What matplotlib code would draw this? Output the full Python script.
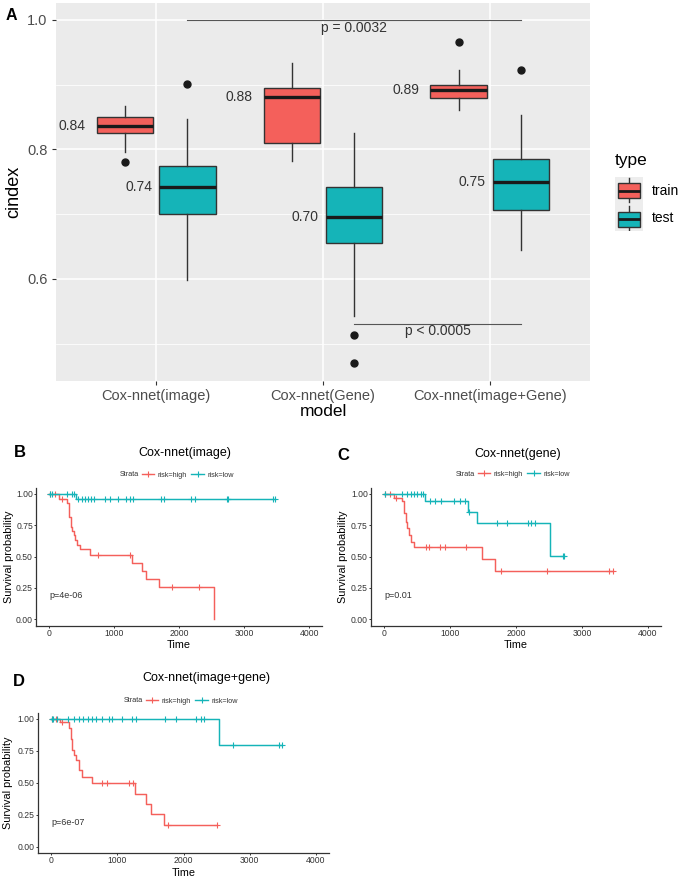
"""Cox-nnet c-index boxplots (A) and Kaplan-Meier curves (B-D)."""

import numpy as np
import matplotlib

matplotlib.use("Agg")
import matplotlib.pyplot as plt
from matplotlib.lines import Line2D
from matplotlib.patches import Rectangle
from matplotlib.ticker import FixedLocator

plt.rcParams["font.family"] = ["Liberation Sans", "DejaVu Sans"]

FIG_W, FIG_H, DPI = 685, 883, 100

TRAIN_COLOR = "#F4605B"
TEST_COLOR = "#15B4B8"
EDGE = "#333333"
DODGE = 0.186
BOX_W = 0.34

# Panel A: c-index summaries
MODELS = ["Cox-nnet(image)", "Cox-nnet(Gene)", "Cox-nnet(image+Gene)"]
TRAIN_MED = [0.836, 0.881, 0.891]
TRAIN_Q1 = [0.825, 0.810, 0.880]
TRAIN_Q3 = [0.850, 0.895, 0.899]
TRAIN_LO = [0.796, 0.782, 0.861]
TRAIN_HI = [0.867, 0.933, 0.923]
TRAIN_OUT = [[0.780], [], [0.965]]
TRAIN_LABELS = ["0.84", "0.88", "0.89"]

TEST_MED = [0.742, 0.695, 0.750]
TEST_Q1 = [0.700, 0.655, 0.707]
TEST_Q3 = [0.775, 0.742, 0.785]
TEST_LO = [0.598, 0.543, 0.644]
TEST_HI = [0.847, 0.825, 0.853]
TEST_OUT = [[0.901], [0.513, 0.470], [0.922]]
TEST_LABELS = ["0.74", "0.70", "0.75"]

BRACKET_PAIRS = [(0, 2), (1, 2)]
BRACKET_Y = [1.0, 0.531]
BRACKET_LABELS = ["p = 0.0032", "p < 0.0005"]

# Panels B-D: Kaplan-Meier step curves (time, survival) and censor times
B_HIGH_TIME = [0, 149, 270, 300, 330, 350, 375, 400, 430, 470, 630, 1267, 1420, 1487, 1692, 2538]
B_HIGH_SURV = [1.0, 0.963, 0.926, 0.815, 0.74, 0.705, 0.67, 0.63, 0.593, 0.56, 0.515,
               0.45, 0.385, 0.32, 0.257, 0.0]
B_HIGH_CENS = [10, 87, 190, 754, 1241, 1882, 2302]
B_LOW_TIME = [0, 410]
B_LOW_SURV = [1.0, 0.96]
B_LOW_CENS = [10, 40, 267, 350, 375, 446, 497, 549, 600, 641, 692, 856, 933, 1061, 1174,
              1241, 1292, 1718, 1769, 2179, 2241, 2728, 2744, 3436, 3472]

C_HIGH_TIME = [0, 147, 273, 300, 330, 350, 380, 410, 456, 1489, 1681]
C_HIGH_SURV = [1.0, 0.97, 0.94, 0.85, 0.78, 0.73, 0.67, 0.62, 0.574, 0.479, 0.386]
C_HIGH_CENS = [10, 85, 185, 632, 683, 845, 922, 1235, 1772, 2466, 3418, 3470]
C_LOW_TIME = [0, 618, 1266, 1413, 2516]
C_LOW_SURV = [1.0, 0.947, 0.859, 0.766, 0.505]
C_LOW_CENS = [10, 263, 349, 400, 451, 501, 552, 592, 694, 770, 861, 1058, 1149, 1225,
              1281, 1706, 1858, 2177, 2228, 2288, 2709, 2735]

D_HIGH_TIME = [0, 136, 272, 300, 320, 350, 380, 420, 470, 621, 1275, 1440, 1505, 1700]
D_HIGH_SURV = [1.0, 0.974, 0.93, 0.84, 0.76, 0.72, 0.68, 0.60, 0.549, 0.497, 0.415,
               0.334, 0.254, 0.171]
D_HIGH_CENS = [10, 70, 160, 765, 840, 1182, 1243, 1771, 2500]
D_LOW_TIME = [0, 2536]
D_LOW_SURV = [1.0, 0.80]
D_LOW_CENS = [10, 35, 85, 262, 352, 428, 488, 553, 613, 679, 765, 875, 926, 1077, 1227,
              1283, 1721, 1882, 2188, 2259, 2309, 2742, 3446, 3481]

STRATA = ["risk=high", "risk=low"]
TIME_TICKS = [0, 1000, 2000, 3000, 4000]
SURV_TICKS = [0.0, 0.25, 0.5, 0.75, 1.0]


def px_axes(fig, left, top, right, bottom):
    """Add axes from pixel edges measured from the top-left corner."""
    return fig.add_axes([left / FIG_W, 1 - bottom / FIG_H,
                         (right - left) / FIG_W, (bottom - top) / FIG_H])


def fig_text(fig, x, y, s, **kw):
    """Place text at pixel coordinates with a top-left origin."""
    return fig.text(x / FIG_W, 1 - y / FIG_H, s, **kw)


def box_stats(med, q1, q3, lo, hi, out):
    """Build the stats dicts that Axes.bxp expects."""
    return [dict(med=m, q1=a, q3=b, whislo=l, whishi=h, fliers=np.array(f))
            for m, a, b, l, h, f in zip(med, q1, q3, lo, hi, out)]


def draw_cindex(fig):
    """Panel A: dodged train/test boxplots with median labels and p-value brackets."""
    ax = px_axes(fig, 56, 3, 590, 380.5)
    ax.set_facecolor("#EBEBEB")
    for spine in ax.spines.values():
        spine.set_visible(False)
    x = np.arange(len(MODELS))

    groups = [
        (-DODGE, TRAIN_COLOR, box_stats(TRAIN_MED, TRAIN_Q1, TRAIN_Q3, TRAIN_LO, TRAIN_HI, TRAIN_OUT),
         TRAIN_LABELS, 0.236),
        (DODGE, TEST_COLOR, box_stats(TEST_MED, TEST_Q1, TEST_Q3, TEST_LO, TEST_HI, TEST_OUT),
         TEST_LABELS, 0.21),
    ]
    for offset, color, stats, labels, gap in groups:
        ax.bxp(stats, positions=x + offset, widths=BOX_W, patch_artist=True, showcaps=False,
               boxprops=dict(facecolor=color, edgecolor=EDGE, linewidth=1.0),
               medianprops=dict(color="#1A1A1A", linewidth=2.4, solid_capstyle="butt"),
               whiskerprops=dict(color=EDGE, linewidth=1.0),
               flierprops=dict(marker="o", markerfacecolor="#1A1A1A",
                               markeredgecolor="#1A1A1A", markersize=5))
        for xi, st, lab in zip(x + offset, stats, labels):
            ax.text(xi - gap, st["med"], lab, ha="right", va="center",
                    fontsize=10, color="#333333")

    for (i, j), y, lab in zip(BRACKET_PAIRS, BRACKET_Y, BRACKET_LABELS):
        x0, x1 = i + DODGE, j + DODGE
        ax.plot([x0, x1], [y, y], color="#555555", lw=0.8)
        ax.text((x0 + x1) / 2, y - 0.012, lab, ha="center", va="center",
                fontsize=10, color="#333333")

    ax.set_xlim(-0.6, 2.6)
    ax.set_ylim(0.443, 1.026)
    ax.set_xticks(x)
    ax.set_xticklabels(MODELS)
    ax.set_yticks([0.6, 0.8, 1.0])
    ax.set_yticklabels(["0.6", "0.8", "1.0"])
    ax.yaxis.set_minor_locator(FixedLocator([0.5, 0.7, 0.9]))
    ax.set_axisbelow(True)
    ax.grid(True, which="major", color="white", linewidth=1.1)
    ax.grid(True, which="minor", axis="y", color="white", linewidth=0.55)
    ax.tick_params(which="minor", length=0)
    ax.tick_params(which="major", length=3, width=0.8, color=EDGE,
                   labelcolor="#4D4D4D", labelsize=10.5, pad=3)

    fig_text(fig, 14, 192, "cindex", rotation=90, ha="center", va="center", fontsize=13)
    fig_text(fig, 323, 411.5, "model", ha="center", va="center", fontsize=12.5)
    fig_text(fig, 11, 16, "A", ha="center", va="center", fontsize=11.5, fontweight="bold")

    # legend: title, key glyphs and labels
    fig_text(fig, 615, 161, "type", ha="left", va="center", fontsize=12.5)
    key = px_axes(fig, 615, 177, 643, 231)
    key.set_facecolor("#EDEDED")
    key.set_xlim(0, 1)
    key.set_ylim(0, 1)
    key.set_xticks([])
    key.set_yticks([])
    for spine in key.spines.values():
        spine.set_visible(False)
    for color, wlo, whi, blo, bhi, med in [(TRAIN_COLOR, 0.54, 0.98, 0.606, 0.894, 0.75),
                                            (TEST_COLOR, 0.02, 0.46, 0.08, 0.36, 0.22)]:
        key.plot([0.49, 0.49], [wlo, whi], color=EDGE, lw=1.0)
        key.add_patch(Rectangle((0.1, blo), 0.78, bhi - blo, facecolor=color,
                                edgecolor=EDGE, lw=1.0, zorder=3))
        key.plot([0.1, 0.88], [med, med], color="#1A1A1A", lw=2.0, zorder=4,
                 solid_capstyle="butt")
    fig_text(fig, 652, 191, "train", ha="left", va="center", fontsize=10)
    fig_text(fig, 652, 218, "test", ha="left", va="center", fontsize=10)


def step_curve(times, surv, cens):
    """Extend a KM step curve to its last censor time and locate the censor marks."""
    end = max(max(cens), times[-1])
    t = list(times)
    s = list(surv)
    if end > times[-1]:
        t.append(end)
        s.append(surv[-1])
    idx = np.searchsorted(times, cens, side="right") - 1
    return t, s, np.asarray(surv)[idx]


def draw_km(fig, panel):
    """One Kaplan-Meier panel in the survminer style."""
    ax = px_axes(fig, *panel["box"])
    for (times, surv, cens), color in zip(panel["curves"], [TRAIN_COLOR, TEST_COLOR]):
        t, s, cs = step_curve(times, surv, cens)
        ax.step(t, s, where="post", color=color, lw=1.05)
        ax.plot(cens, cs, ls="none", marker="+", ms=4.5, mew=0.8, color=color)

    ax.set_xlim(-200, 4200)
    ax.set_ylim(-0.05, 1.05)
    ax.set_xticks(TIME_TICKS)
    ax.set_yticks(SURV_TICKS)
    ax.set_yticklabels([f"{v:.2f}" for v in SURV_TICKS])
    for side in ["top", "right"]:
        ax.spines[side].set_visible(False)
    for side in ["left", "bottom"]:
        ax.spines[side].set_color(EDGE)
        ax.spines[side].set_linewidth(0.9)
    ax.tick_params(length=1.6, width=0.7, color=EDGE, labelcolor="#333333",
                   labelsize=6.2, pad=0.8)
    ax.text(0, 0.19, panel["pval"], ha="left", va="center", fontsize=6.5, color="#333333")

    tx, ty = panel["title_xy"]
    fig_text(fig, tx, ty, panel["title"], ha="center", va="center", fontsize=9)
    lx, ly = panel["letter_xy"]
    fig_text(fig, lx, ly, panel["letter"], ha="left", va="center",
             fontsize=12, fontweight="bold")
    cy = (panel["box"][1] + panel["box"][3]) / 2
    fig_text(fig, panel["ylab_x"], cy, "Survival probability", rotation=90,
             ha="center", va="center", fontsize=7.8)
    mx, my = panel["time_xy"]
    fig_text(fig, mx, my, "Time", ha="center", va="center", fontsize=7.8)

    sx, sy = panel["strata_xy"]
    fig_text(fig, sx, sy, "Strata", ha="right", va="center", fontsize=5.2, color="#333333")
    handles = [Line2D([], [], color=c, lw=1.0, marker="+", ms=4, mew=0.8)
               for c in [TRAIN_COLOR, TEST_COLOR]]
    ax.legend(handles, STRATA, ncol=2, frameon=False, fontsize=5.2, loc="center left",
              bbox_to_anchor=((sx + 3) / FIG_W, 1 - sy / FIG_H),
              bbox_transform=fig.transFigure, handlelength=1.7, handletextpad=0.5,
              columnspacing=0.6, borderpad=0, borderaxespad=0, labelcolor="#333333")


def main():
    fig = plt.figure(figsize=(FIG_W / DPI, FIG_H / DPI), dpi=DPI)
    draw_cindex(fig)

    panels = [
        dict(letter="B", title="Cox-nnet(image)", pval="p=4e-06",
             curves=[(B_HIGH_TIME, B_HIGH_SURV, B_HIGH_CENS), (B_LOW_TIME, B_LOW_SURV, B_LOW_CENS)],
             box=(36.3, 487.7, 322.3, 625.6), title_xy=(185, 453), letter_xy=(14, 453),
             ylab_x=9.5, time_xy=(179, 645.5), strata_xy=(139, 475)),
        dict(letter="C", title="Cox-nnet(gene)", pval="p=0.01",
             curves=[(C_HIGH_TIME, C_HIGH_SURV, C_HIGH_CENS), (C_LOW_TIME, C_LOW_SURV, C_LOW_CENS)],
             box=(371.1, 487.7, 660.9, 625.6), title_xy=(518, 454), letter_xy=(337, 455),
             ylab_x=343, time_xy=(516, 645.5), strata_xy=(475, 474)),
        dict(letter="D", title="Cox-nnet(image+gene)", pval="p=6e-07",
             curves=[(D_HIGH_TIME, D_HIGH_SURV, D_HIGH_CENS), (D_LOW_TIME, D_LOW_SURV, D_LOW_CENS)],
             box=(37.75, 712.6, 329.25, 853.1), title_xy=(206, 678), letter_xy=(13, 682),
             ylab_x=8.5, time_xy=(184, 873), strata_xy=(143, 701)),
    ]
    for panel in panels:
        draw_km(fig, panel)

    fig.savefig("out.png", dpi=DPI)


if __name__ == "__main__":
    main()
